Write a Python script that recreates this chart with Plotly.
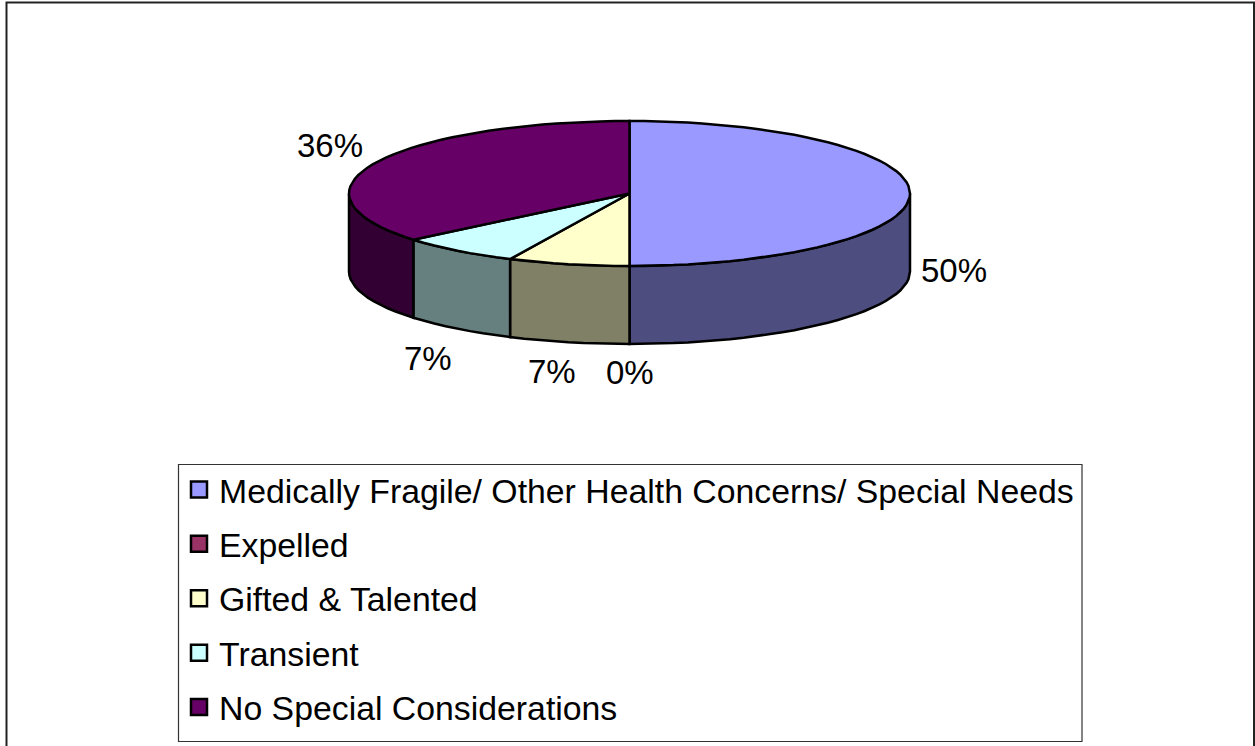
import math
import plotly.graph_objects as go

categories = ["Medically Fragile/ Other Health Concerns/ Special Needs", "Expelled",
              "Gifted & Talented", "Transient", "No Special Considerations"]
percents = [50, 0, 7, 7, 36]
top_colors = ["#9999FF", "#993366", "#FFFFCC", "#CCFFFF", "#660066"]
side_colors = ["#4D4D80", "#4D1A33", "#808066", "#668080", "#330033"]

# label anchor centres in chart pixels
label_pos = [(954, 270), (630, 372), (552, 371), (428, 358), (330, 145)]

W, H = 1255, 746
CX, CY, RX, RY, DEPTH = 629.5, 193.5, 280.5, 72.5, 78
FONT = "Liberation Sans, Arial, sans-serif"
LW = 2.5


def pt(deg, dy=0):
    r = math.radians(deg)
    return CX + RX * math.sin(r), CY - RY * math.cos(r) + dy


def arc(a, b, dy=0):
    n = max(2, int(abs(b - a) / 3) + 1)
    return [pt(a + (b - a) * i / (n - 1), dy) for i in range(n)]


fig = go.Figure()
total = sum(percents)
angle = 0
spans = []
for v in percents:
    spans.append((angle, angle + v / total * 360))
    angle += v / total * 360


def poly(points, color, name):
    fig.add_trace(go.Scatter(
        x=[p[0] for p in points], y=[p[1] for p in points], mode="lines", fill="toself",
        fillcolor=color, line=dict(color="#000000", width=LW), showlegend=False,
        hoverinfo="skip", name=name))


# sides first (visible front half only), then top faces
for (a, b), col, name in zip(spans, side_colors, categories):
    lo, hi = max(a, 90), min(b, 270)
    if hi > lo:
        poly(arc(lo, hi) + arc(hi, lo, DEPTH) + [pt(lo)], col, name)
for (a, b), col, name in zip(spans, top_colors, categories):
    if b > a:
        poly([(CX, CY)] + arc(a, b) + [(CX, CY)], col, name)

# legend entries
for name, col in zip(categories, top_colors):
    fig.add_trace(go.Scatter(
        x=[None], y=[None], mode="markers", name=name, legendgroup=name,
        marker=dict(symbol="square", size=16, color=col, line=dict(color="#000000", width=2.5))))

# percent labels
for v, (x, y) in zip(percents, label_pos):
    fig.add_annotation(x=x, y=y, text=f"{round(v / total * 100)}%", showarrow=False,
                       xanchor="center", yanchor="middle",
                       font=dict(family=FONT, size=33, color="#000000"))

# chart frame and legend box
fig.add_shape(type="rect", x0=6.5, y0=2.5, x1=1254, y1=760, line=dict(color="#222222", width=2),
              fillcolor="rgba(0,0,0,0)", layer="below")
fig.add_shape(type="rect", x0=178.5, y0=464.5, x1=1082, y1=741.5, line=dict(color="#333333", width=1.2),
              fillcolor="#FFFFFF", layer="below")

fig.update_layout(
    width=W, height=H, margin=dict(l=0, r=0, t=0, b=0),
    paper_bgcolor="#FFFFFF", plot_bgcolor="#FFFFFF",
    xaxis=dict(range=[0, W], visible=False, fixedrange=True),
    yaxis=dict(range=[H, 0], visible=False, fixedrange=True),
    legend=dict(x=179 / W, y=1 - 461 / H, xanchor="left", yanchor="top",
                bgcolor="rgba(0,0,0,0)", borderwidth=0,
                font=dict(family=FONT, size=33.8, color="#000000"),
                tracegroupgap=7.45, itemsizing="trace", itemclick=False, itemdoubleclick=False,
                entrywidth=860, entrywidthmode="pixels"),
)
fig.write_html("out.html", config=dict(displayModeBar=False),
               post_script="document.body.style.margin='0';document.body.style.overflow='hidden';")
